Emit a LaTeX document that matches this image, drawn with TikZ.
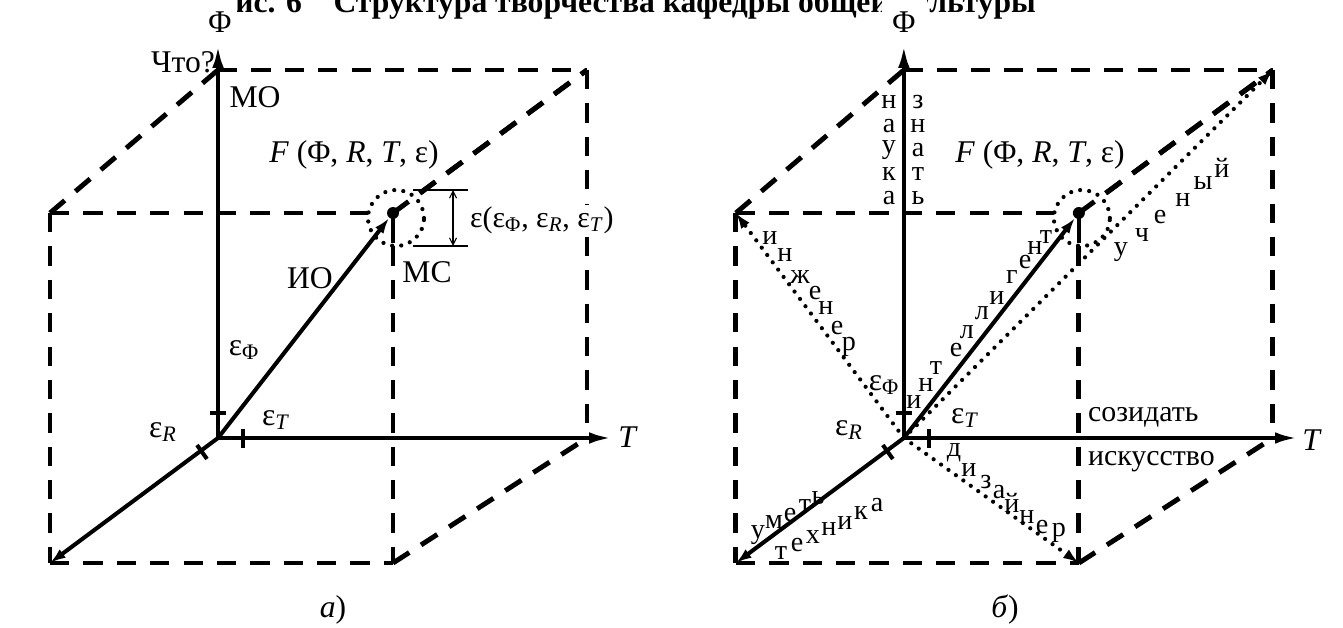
\documentclass[tikz,border=0pt]{standalone}
\usepackage{fontspec}
\setmainfont{Liberation Serif}
\usetikzlibrary{arrows.meta}
\begin{document}
\begin{tikzpicture}[x=0.02cm,y=-0.02cm,
  axis/.style={line width=2.3pt},
  dbox/.style={line width=2.8pt, dash pattern=on 11pt off 8pt},
  dotl/.style={line width=2.4pt, line cap=round, dash pattern=on 0pt off 5.2pt},
  bigtip/.style={-{Latex[length=13pt,width=6.5pt]}},
  smalltip/.style={-{Latex[length=9pt,width=6pt]}},
  lbl/.style={font=\fontsize{18}{20}\selectfont, inner sep=1pt},
  mid/.style={font=\fontsize{17}{19}\selectfont, inner sep=1pt},
  ltr/.style={font=\fontsize{16}{17}\selectfont, inner sep=0pt},
  tick/.style={line width=2.3pt},
]
\useasboundingbox (0,0) rectangle (1343,628);
% title (clipped at top)
\node[font=\bfseries\fontsize{18}{20}\selectfont, anchor=base] (title) at (626,13) {Рис. 6\quad Структура творчества кафедры общей культуры};

\foreach \p/\sh in {a/0cm, b/13.72cm}{
\begin{scope}[xshift=\sh]
  \coordinate (O\p) at (218,438);
  \coordinate (Ftip\p) at (218,45);
  \coordinate (Ttip\p) at (612,438);
  \coordinate (Rtip\p) at (50,563);
  \coordinate (BTL\p) at (218,70);
  \coordinate (BTR\p) at (587,70);
  \coordinate (BBR\p) at (587,438);
  \coordinate (FTL\p) at (50,213);
  \coordinate (FBL\p) at (50,563);
  \coordinate (FBR\p) at (393,563);
  \coordinate (FTR\p) at (393,213);
  % box
  \draw[dbox] (BTL\p) -- (BTR\p);
  \draw[dbox] (BTR\p) -- (BBR\p);
  \draw[dbox] (FTL\p) -- (BTL\p);
  \draw[dbox] (FTR\p) -- (BTR\p);
  \draw[dbox] (FBR\p) -- (BBR\p);
  \draw[dbox] (FTL\p) -- (FTR\p);
  \draw[dbox] (FTL\p) -- (FBL\p);
  \draw[dbox] (FBL\p) -- (FBR\p);
  \draw[dbox] (FTR\p) -- (FBR\p);
  % axes
  \draw[axis,bigtip] (O\p) -- (Ftip\p);
  \draw[axis,bigtip] (O\p) -- (Ttip\p);
  \draw[axis,smalltip] (O\p) -- (Rtip\p);
  % ticks
  \draw[tick] (210,413) -- (226,413);
  \draw[tick] (243,429) -- (243,448);
  \draw[tick] (197,445) -- (207,459);
  % point
  \node[circle,fill=white,draw,dotl,minimum size=1.12cm,inner sep=0pt] (circ\p) at (396,218) {};
  \node[circle,fill,inner sep=0pt,minimum size=0.24cm] (dot\p) at (FTR\p) {};
  \draw[axis] (dot\p.center) -- ++(0,30);
  \draw[dbox] (dot\p.center) -- (BTR\p);
  \draw[axis,smalltip] (O\p) -- (dot\p);
\end{scope}
}
% Phi labels with white boxes
\node[lbl,fill=white,minimum width=0.68cm,minimum height=0.9cm] (Phia) at (220,22) {Φ};
\node[lbl,fill=white,minimum width=0.9cm,minimum height=0.9cm] (Phib) at (904,22) {Φ};

% ---- left panel labels
\node[lbl] (chto) at (183,62) {Что?};
\node[lbl] (MO) at (255,97) {МО};
\node[lbl] (Fa) at (354,155) {\textit{F} (Φ, \textit{R}, \textit{T}, ε)};
\node[lbl] (IO) at (310,278) {ИО};
\node[lbl] (MC) at (427,272) {МС};
\draw[line width=1.6pt] (413,190) -- (468,190);
\draw[line width=1.6pt] (413,246) -- (468,246);
\draw[line width=0.6pt,{Straight Barb[length=4pt,width=4pt]}-{Straight Barb[length=4pt,width=4pt]}] (453,190) -- (453,246);
\node[mid,anchor=west,fill=white] (epsa) at (468,220) {ε(ε\textsubscript{Φ}, ε\textsubscript{\textit{R}}, ε\textsubscript{\textit{T}})};
\node[lbl] (ePhia) at (244,350) {ε\textsubscript{Φ}};
\node[lbl] (eTa) at (276,420) {ε\textsubscript{\textit{T}}};
\node[lbl] (eRa) at (163,432) {ε\textsubscript{\textit{R}}};
\node[lbl] (Ta) at (628,437) {\textit{T}};
\node[lbl] (capa) at (333,610) {\textit{а})};

% ---- right panel
\node[lbl] (Fb) at (1040,155) {\textit{F} (Φ, \textit{R}, \textit{T}, ε)};
\node[lbl] (ePhib) at (884,385) {ε\textsubscript{Φ}};
\node[lbl] (eTb) at (965,418) {ε\textsubscript{\textit{T}}};
\node[lbl] (eRb) at (849,430) {ε\textsubscript{\textit{R}}};
\node[lbl] (Tb) at (1312,440) {\textit{T}};
\node[lbl] (capb) at (1005,610) {\textit{б})};
\node[mid,anchor=west] (soz) at (1086,417) {созидать};
\node[mid,anchor=west,fill=white] (isk) at (1086,462) {искусство};
% dotted arrows
\draw[dotl,smalltip] (Ob) -- (FTLb);
\draw[dotl,smalltip] (Ob) -- (BTRb);
\draw[dotl,smalltip] (Ob) -- (FBRb);
% vertical words
\foreach \c [count=\i] in {н,а,у,к,а}{\node[ltr] at (889,{78+24*\i}) {\c};}
\foreach \c [count=\i] in {з,н,а,т,ь}{\node[ltr] at (918,{78+24*\i}) {\c};}
% инженер
\foreach \c/\x/\y in {и/770/238, н/785/255, ж/800/277, е/815/293, н/826/308, е/837/328, р/849/347}{\node[ltr] at (\x,\y) {\c};}
% интеллигент
\foreach \c/\x/\y in {и/914/402, н/926/385, т/936/368, е/956/350, л/967/332, л/982/313, и/997/298, г/1012/277, е/1025/262, н/1035/248, т/1046/237}{\node[ltr] at (\x,\y) {\c};}
% ученый
\foreach \c/\x/\y in {у/1121/252, ч/1142/235, е/1160/217, н/1183/200, ы/1203/183, й/1222/168}{\node[ltr] at (\x,\y) {\c};}
% дизайнер
\foreach \c/\x/\y in {д/954/453, и/969/470, з/986/482, а/999/492, й/1012/503, н/1027/517, е/1042/527, р/1059/533}{\node[ltr] at (\x,\y) {\c};}
% уметь
\foreach \c/\x/\y in {у/758/535, м/774/522, е/790/515, т/805/506, ь/818/498}{\node[ltr] at (\x,\y) {\c};}
% техника
\foreach \c/\x/\y in {т/781/553, е/797/545, х/813/537, н/829/529, и/845/523, к/861/513, а/877/505}{\node[ltr] at (\x,\y) {\c};}
\end{tikzpicture}
\end{document}
